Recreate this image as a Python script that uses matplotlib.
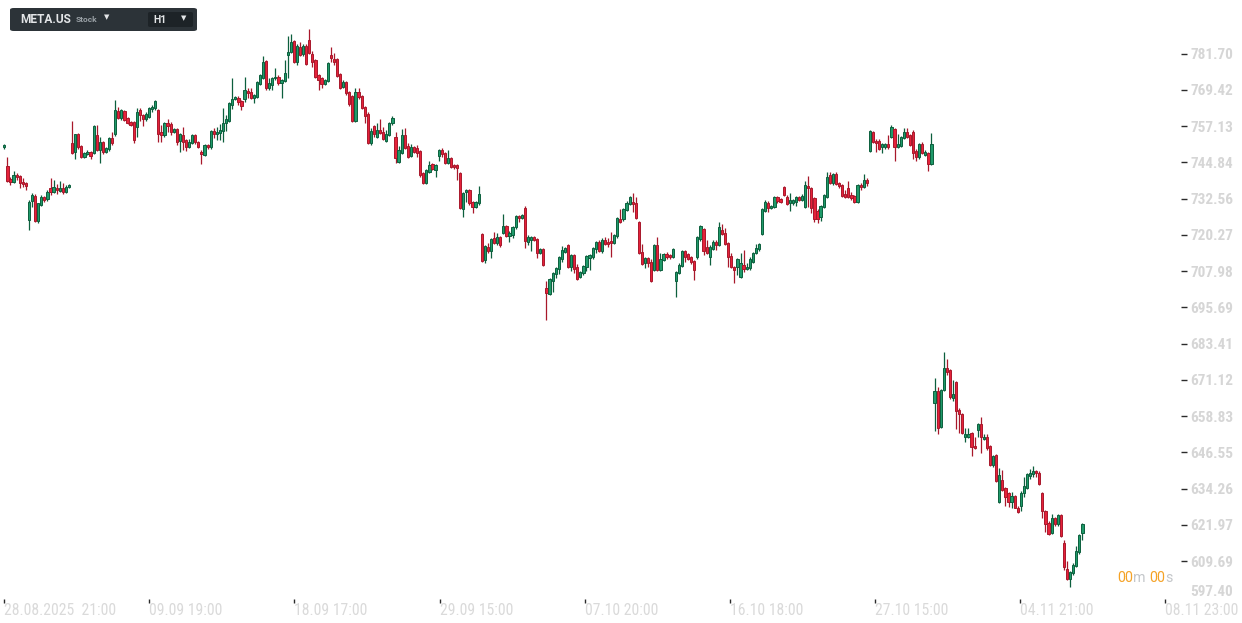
import matplotlib
matplotlib.use("Agg")
import matplotlib.pyplot as plt
from matplotlib import font_manager
from matplotlib.patches import FancyBboxPatch
import numpy as np

# hourly META.US candles
opens = [
    750.0, 743.6, 739.3, 738.1, 740.5, 740.1, 738.2, 737.8, 725.4, 731.9,
    733.4, 724.8, 730.4, 733.0, 732.4, 736.0, 734.9, 736.2, 735.2, 736.0,
    734.9, 736.4, 751.3, 748.5, 754.3, 750.3, 746.5, 747.7, 748.2, 748.1,
    754.0, 749.0, 751.6, 748.5, 749.2, 753.0, 754.3, 762.2, 759.8, 762.2,
    759.8, 758.6, 758.5, 756.9, 762.5, 760.9, 759.4, 760.3, 762.8, 763.1,
    762.5, 755.0, 754.1, 758.1, 757.7, 755.2, 756.1, 752.0, 754.1, 752.4,
    750.2, 751.3, 754.1, 751.8, 748.5, 747.3, 750.7, 749.9, 755.5, 754.3,
    754.7, 755.5, 758.1, 759.0, 764.3, 766.3, 766.8, 765.6, 766.3, 769.0,
    768.6, 766.5, 767.1, 771.3, 773.5, 779.2, 769.9, 771.1, 773.3, 773.9,
    771.6, 772.4, 781.2, 782.4, 786.0, 779.0, 784.0, 781.4, 784.4, 786.3,
    781.4, 779.5, 774.4, 773.5, 771.3, 772.4, 781.2, 779.9, 779.9, 774.7,
    770.3, 772.0, 768.6, 767.3, 759.0, 768.6, 767.3, 763.5, 761.2, 751.3,
    757.2, 753.5, 755.8, 755.2, 752.2, 754.1, 758.1, 753.3, 745.1, 747.9,
    754.1, 750.4, 747.0, 749.9, 749.6, 748.7, 741.1, 738.0, 741.7, 744.2,
    742.2, 747.0, 749.0, 747.9, 744.7, 746.2, 743.8, 743.9, 741.1, 728.9,
    734.7, 735.5, 731.3, 729.6, 730.9, 720.5, 711.7, 716.3, 714.9, 719.1,
    717.4, 719.4, 720.8, 723.3, 719.9, 720.2, 722.8, 726.6, 725.9, 729.2,
    718.0, 718.5, 719.6, 718.7, 714.2, 715.4, 702.1, 700.2, 704.7, 706.9,
    708.6, 712.0, 714.6, 716.8, 709.2, 713.4, 709.2, 705.9, 707.2, 709.2,
    712.3, 712.6, 715.4, 718.0, 714.9, 718.5, 718.0, 718.2, 717.4, 720.0,
    725.5, 725.5, 728.7, 730.7, 731.5, 731.2, 724.5, 714.3, 710.6, 712.3,
    711.2, 708.3, 716.8, 708.3, 711.7, 713.6, 713.4, 712.9, 704.7, 707.4,
    709.7, 714.8, 713.8, 712.6, 711.5, 712.6, 718.7, 722.1, 716.3, 712.6,
    715.4, 718.0, 716.8, 721.9, 721.0, 717.4, 713.1, 709.3, 709.3, 706.1,
    710.0, 708.6, 708.9, 711.2, 714.0, 715.3, 720.5, 728.5, 731.2, 729.3,
    729.6, 733.0, 732.4, 736.4, 733.2, 730.9, 730.9, 731.5, 733.0, 732.1,
    729.6, 736.8, 736.0, 732.6, 728.5, 726.2, 729.8, 733.2, 740.6, 737.7,
    740.9, 737.7, 737.2, 734.1, 736.0, 733.8, 733.4, 731.5, 737.2, 736.6,
    738.9, 748.8, 755.0, 752.2, 752.2, 749.9, 749.9, 751.1, 753.5, 756.0,
    750.2, 750.4, 753.0, 755.0, 754.1, 755.2, 748.8, 746.5, 751.1, 747.3,
    748.1, 744.3, 663.2, 667.3, 655.2, 667.7, 675.0, 674.5, 664.9, 670.3,
    660.9, 659.5, 651.6, 651.9, 653.0, 648.7, 654.1, 656.1, 651.0, 651.6,
    648.7, 642.2, 645.6, 629.6, 637.2, 634.3, 632.6, 629.6, 631.7, 627.8,
    628.5, 632.6, 634.6, 638.6, 639.1, 640.2, 639.7, 632.6, 626.7, 622.7,
    619.1, 624.2, 622.1, 625.3, 615.7, 606.9, 603.5, 605.5, 608.0, 612.6,
    619.1,
]
highs = [
    751.0, 746.8, 739.8, 741.9, 741.1, 740.5, 739.4, 738.2, 732.0, 734.3,
    734.1, 731.2, 733.8, 733.3, 735.5, 739.4, 738.9, 737.4, 738.4, 737.7,
    737.2, 737.5, 758.8, 754.6, 754.8, 750.6, 748.3, 749.0, 748.6, 757.4,
    757.5, 753.3, 752.0, 750.1, 753.5, 755.0, 766.0, 763.7, 762.9, 762.7,
    760.2, 759.0, 758.9, 763.1, 763.1, 761.3, 761.9, 763.5, 764.3, 766.0,
    763.0, 757.5, 758.6, 759.5, 758.6, 756.5, 756.5, 754.8, 756.9, 752.8,
    752.6, 754.5, 754.5, 752.2, 749.0, 751.1, 751.1, 755.9, 756.6, 756.9,
    757.8, 763.1, 760.9, 765.2, 773.3, 767.2, 767.4, 766.0, 773.9, 769.9,
    769.9, 768.0, 772.5, 774.8, 781.0, 779.6, 773.3, 773.9, 776.7, 774.3,
    773.1, 779.5, 787.7, 788.2, 786.3, 784.8, 785.7, 784.8, 784.8, 790.0,
    782.6, 779.9, 774.8, 773.9, 773.1, 778.8, 784.0, 781.8, 780.3, 775.1,
    772.8, 772.4, 769.1, 767.7, 769.9, 769.9, 767.7, 763.9, 761.8, 756.4,
    757.6, 758.3, 759.4, 756.9, 755.8, 758.5, 760.5, 755.2, 750.4, 756.0,
    756.4, 751.5, 751.0, 750.3, 750.7, 749.1, 741.5, 742.6, 745.4, 744.7,
    744.3, 749.4, 749.6, 748.3, 749.0, 746.6, 744.2, 744.3, 741.5, 734.7,
    735.9, 735.9, 731.7, 731.8, 736.8, 720.9, 716.9, 717.4, 719.1, 721.3,
    721.0, 719.8, 727.3, 723.7, 721.4, 723.4, 727.0, 727.0, 727.4, 730.0,
    720.2, 719.8, 719.9, 719.1, 715.8, 715.8, 704.6, 705.6, 707.6, 709.3,
    713.0, 716.5, 716.1, 717.2, 713.8, 713.8, 710.4, 708.0, 710.1, 713.5,
    713.8, 716.1, 718.1, 718.4, 719.1, 719.4, 719.1, 721.3, 720.6, 726.3,
    728.9, 729.3, 731.6, 733.4, 734.6, 733.0, 724.9, 717.2, 712.7, 712.7,
    712.0, 717.2, 719.6, 714.0, 714.0, 714.5, 713.8, 715.8, 708.0, 710.6,
    715.1, 715.2, 714.2, 713.0, 711.9, 719.8, 723.7, 722.5, 718.5, 716.7,
    718.5, 718.4, 724.7, 723.9, 722.5, 717.8, 714.0, 709.7, 712.4, 714.2,
    715.1, 710.6, 712.9, 714.6, 717.2, 717.6, 729.3, 732.1, 731.6, 730.4,
    733.4, 733.4, 732.8, 736.8, 733.6, 734.3, 732.5, 733.4, 733.4, 734.1,
    738.6, 740.2, 736.4, 733.0, 728.9, 730.4, 734.2, 741.7, 741.7, 741.3,
    741.7, 738.1, 737.6, 735.5, 738.6, 734.9, 733.8, 737.6, 737.9, 740.9,
    739.4, 755.9, 755.4, 752.6, 752.6, 751.5, 751.5, 754.1, 757.5, 756.4,
    754.4, 753.7, 756.4, 756.4, 754.5, 755.8, 749.2, 751.5, 751.6, 748.9,
    748.5, 754.9, 671.9, 668.8, 668.1, 680.4, 678.1, 674.9, 671.1, 670.7,
    661.5, 659.9, 654.7, 654.7, 653.4, 651.9, 656.6, 658.4, 652.8, 652.8,
    649.1, 645.6, 646.0, 641.1, 640.6, 634.7, 633.0, 633.2, 632.1, 628.2,
    633.3, 638.3, 639.7, 640.9, 641.9, 640.6, 640.1, 633.0, 627.1, 623.1,
    625.6, 624.6, 625.7, 625.7, 616.8, 609.8, 606.3, 608.9, 614.8, 618.9,
    622.5,
]
lows = [
    749.5, 738.3, 737.2, 737.8, 738.9, 736.0, 736.6, 735.5, 721.9, 729.8,
    724.5, 724.3, 730.0, 731.5, 731.9, 733.8, 734.5, 734.0, 734.9, 734.1,
    734.3, 736.0, 747.8, 745.9, 749.5, 746.2, 746.2, 747.3, 746.0, 747.8,
    748.6, 744.7, 747.7, 748.1, 748.8, 750.7, 753.8, 759.4, 759.3, 758.9,
    757.9, 757.2, 751.3, 753.5, 759.0, 757.3, 759.0, 759.9, 762.0, 762.7,
    751.8, 751.8, 753.5, 755.2, 754.1, 754.8, 750.7, 748.5, 749.0, 748.7,
    749.6, 750.9, 751.2, 749.8, 744.2, 747.0, 749.5, 749.5, 753.2, 752.4,
    752.4, 751.6, 755.5, 758.6, 762.9, 765.9, 764.3, 762.6, 765.2, 766.5,
    766.3, 764.8, 766.7, 771.0, 773.1, 769.4, 769.4, 769.4, 772.9, 771.1,
    766.5, 772.0, 773.3, 781.8, 778.6, 777.8, 780.8, 781.0, 777.7, 781.4,
    777.3, 773.5, 769.4, 769.9, 770.9, 772.0, 779.0, 777.8, 773.8, 769.8,
    769.9, 767.8, 764.1, 758.6, 758.6, 766.2, 762.8, 758.3, 750.9, 750.7,
    753.5, 753.1, 754.5, 752.4, 751.9, 753.7, 757.5, 744.5, 744.7, 747.5,
    749.2, 746.4, 746.6, 748.1, 746.8, 739.8, 737.6, 737.4, 741.3, 742.2,
    739.8, 745.4, 746.5, 744.3, 744.3, 742.8, 742.7, 738.9, 728.9, 726.4,
    731.5, 730.5, 727.6, 729.2, 730.5, 711.1, 710.6, 714.0, 712.3, 717.0,
    716.8, 716.3, 720.4, 719.4, 718.0, 719.1, 722.4, 724.7, 725.5, 715.7,
    716.8, 714.9, 718.1, 712.3, 713.8, 709.6, 691.4, 699.8, 701.0, 705.5,
    707.0, 711.2, 714.2, 709.1, 708.1, 707.4, 705.0, 705.5, 706.8, 708.1,
    708.3, 712.2, 714.2, 714.5, 714.2, 716.8, 716.3, 712.6, 717.0, 719.1,
    724.3, 725.1, 728.3, 730.3, 728.1, 725.5, 713.6, 710.0, 708.9, 709.5,
    704.4, 707.9, 707.9, 707.9, 711.3, 712.0, 712.2, 712.5, 699.1, 707.0,
    709.3, 711.2, 711.6, 710.4, 705.0, 712.2, 718.3, 713.4, 713.8, 710.0,
    715.0, 715.1, 716.4, 720.1, 716.8, 709.3, 708.9, 703.8, 706.7, 705.7,
    707.8, 708.2, 708.5, 710.8, 713.6, 714.9, 720.1, 728.1, 728.1, 728.9,
    729.2, 730.9, 731.1, 733.4, 730.3, 728.5, 730.5, 730.0, 731.7, 731.7,
    729.2, 729.8, 727.8, 724.7, 724.2, 725.1, 729.4, 732.8, 737.6, 737.3,
    737.1, 736.0, 733.0, 732.6, 732.6, 732.2, 731.1, 731.1, 735.5, 736.2,
    736.8, 748.5, 751.4, 748.5, 749.0, 747.9, 749.5, 749.5, 753.1, 745.4,
    749.8, 750.0, 752.6, 753.1, 750.3, 745.9, 745.4, 746.1, 747.5, 746.9,
    742.0, 743.9, 653.9, 652.6, 654.8, 667.3, 672.8, 664.5, 664.1, 654.3,
    653.2, 652.6, 650.2, 651.5, 645.4, 647.6, 651.9, 646.2, 650.6, 647.3,
    641.8, 641.5, 636.4, 629.2, 633.4, 628.4, 628.1, 627.6, 627.6, 626.1,
    626.8, 631.5, 634.2, 637.4, 638.3, 638.3, 635.4, 624.2, 619.7, 618.5,
    618.7, 621.7, 621.7, 618.0, 606.7, 603.3, 601.0, 605.1, 607.6, 612.2,
    616.8,
]
closes = [
    750.8, 738.6, 738.2, 740.4, 739.8, 737.7, 737.4, 736.9, 731.4, 733.7,
    725.1, 730.9, 733.0, 732.1, 734.9, 734.9, 736.4, 735.5, 736.0, 734.9,
    736.6, 737.1, 748.1, 754.3, 749.9, 746.5, 747.9, 748.5, 747.0, 757.0,
    749.0, 751.7, 748.5, 749.7, 753.0, 751.5, 762.5, 759.8, 762.5, 759.3,
    758.3, 757.6, 752.3, 761.8, 761.0, 759.4, 761.2, 763.1, 763.7, 765.6,
    754.6, 754.1, 758.1, 757.3, 755.2, 756.1, 751.6, 754.4, 751.8, 749.9,
    751.8, 754.1, 751.6, 750.2, 747.5, 750.7, 749.9, 755.5, 754.3, 755.2,
    755.8, 758.1, 759.4, 764.8, 766.3, 766.8, 765.2, 764.0, 769.4, 768.2,
    766.5, 767.7, 772.1, 774.4, 779.0, 769.9, 771.6, 773.5, 773.9, 771.6,
    772.7, 775.0, 782.4, 785.7, 779.0, 784.4, 781.2, 784.4, 778.1, 781.8,
    778.7, 773.9, 772.7, 771.3, 772.7, 778.4, 780.1, 779.0, 774.2, 770.2,
    772.0, 768.2, 764.5, 759.0, 768.6, 767.1, 763.1, 760.7, 751.3, 755.5,
    754.3, 755.8, 754.9, 752.6, 754.4, 758.1, 759.8, 746.2, 749.0, 754.1,
    749.6, 746.8, 749.9, 748.5, 748.1, 740.5, 738.0, 742.2, 743.9, 742.5,
    743.9, 749.0, 747.7, 744.7, 746.2, 743.4, 743.1, 743.0, 729.3, 734.3,
    735.5, 730.9, 729.6, 731.4, 734.1, 711.5, 716.5, 714.9, 718.7, 717.4,
    719.4, 716.8, 723.3, 720.0, 721.0, 723.0, 726.6, 725.9, 727.0, 718.3,
    719.4, 719.4, 718.5, 714.2, 715.4, 710.0, 700.7, 705.2, 707.2, 708.9,
    712.6, 715.1, 715.7, 709.5, 713.4, 708.6, 705.4, 707.6, 709.7, 713.1,
    713.4, 715.7, 717.7, 714.9, 718.5, 717.2, 717.2, 717.4, 720.2, 725.9,
    724.7, 728.9, 731.2, 733.0, 730.6, 725.9, 714.0, 710.4, 712.3, 710.8,
    704.6, 716.8, 708.3, 712.0, 713.6, 712.9, 712.6, 715.4, 707.5, 710.0,
    714.9, 712.9, 712.0, 711.2, 708.3, 719.4, 723.3, 714.9, 714.2, 716.3,
    718.0, 716.8, 723.0, 720.5, 717.2, 712.9, 709.3, 708.3, 712.0, 710.6,
    708.6, 709.5, 712.0, 714.2, 715.7, 717.2, 728.9, 731.5, 729.3, 730.0,
    733.0, 731.8, 731.5, 733.8, 730.7, 732.1, 732.1, 733.0, 732.1, 733.4,
    737.2, 736.0, 729.3, 725.5, 725.5, 730.0, 733.8, 739.8, 738.0, 740.9,
    737.5, 736.8, 733.4, 733.0, 733.0, 732.6, 731.5, 737.2, 736.4, 738.9,
    737.9, 755.5, 751.8, 751.5, 749.3, 751.1, 751.1, 749.9, 756.7, 749.9,
    751.1, 753.3, 755.0, 753.5, 750.7, 748.1, 746.5, 751.1, 747.9, 748.5,
    744.3, 751.1, 667.3, 654.7, 667.7, 675.0, 673.9, 665.2, 666.3, 660.6,
    659.5, 653.0, 652.8, 652.8, 648.2, 647.9, 656.1, 651.6, 651.9, 647.9,
    642.2, 645.3, 636.8, 638.9, 633.8, 631.3, 629.8, 631.7, 627.8, 626.4,
    632.9, 635.1, 639.1, 639.4, 640.2, 639.4, 635.8, 626.7, 622.1, 618.9,
    624.2, 622.1, 625.3, 618.3, 607.8, 603.5, 605.9, 608.4, 613.1, 618.5,
    622.1,
]

x_tick_pos = [0, 47.1, 94.2, 141.3, 188.4, 235.5, 282.6, 329.7, 376.8]
x_tick_labels = ["28.08.2025  21:00", "09.09 19:00", "18.09 17:00", "29.09 15:00",
                 "07.10 20:00", "16.10 18:00", "27.10 15:00", "04.11 21:00", "08.11 23:00"]
y_ticks = [781.70, 769.42, 757.13, 744.84, 732.56, 720.27, 707.98, 695.69,
           683.41, 671.12, 658.83, 646.55, 634.26, 621.97, 609.69]
y_floor = 597.40

UP, UP_EDGE = "#1f9a6a", "#0c5f3d"
DN, DN_EDGE = "#e5223a", "#a8182b"

# pick a narrow face for the axis labels, whatever is installed
fonts = font_manager.fontManager.ttflist
names = {f.name for f in fonts}
if "Roboto Condensed" in names:
    axfont, axsize = dict(family="Roboto Condensed"), 11
elif "Liberation Sans Narrow" in names:
    axfont, axsize = dict(family="Liberation Sans Narrow"), 11
elif any(f.name == "DejaVu Sans" and "condensed" in str(f.stretch) for f in fonts):
    axfont, axsize = dict(family="DejaVu Sans", stretch="condensed"), 10
else:
    axfont, axsize = dict(family="Roboto"), 9.3

W, H = 1242, 623
fig = plt.figure(figsize=(W / 100, H / 100), dpi=100)
ax = fig.add_axes([0, 24 / H, 1181 / W, 599 / H])

o, h, l, c = map(np.array, (opens, highs, lows, closes))
idx = np.arange(len(o))
up = c >= o
fill = np.where(up, UP, DN)
edge = np.where(up, UP_EDGE, DN_EDGE)

ax.vlines(idx, l, h, colors=edge, linewidth=0.9, zorder=2)
bottom = np.minimum(o, c)
height = np.maximum(np.abs(c - o), 0.6)
ax.bar(idx, height, bottom=bottom, width=0.72, color=fill, edgecolor=edge,
       linewidth=0.7, zorder=3)

ax.set_xlim(-1.4, 382.0)
ax.set_ylim(596.82, 799.87)
for s in ax.spines.values():
    s.set_visible(False)

ax.yaxis.tick_right()
ax.set_yticks(y_ticks, [f"{v:.2f}" for v in y_ticks])
ax.tick_params(axis="y", length=4.3, width=1.0, color="#2b2b2b", pad=2.2,
               labelsize=axsize, labelcolor="#d6d6d6")
for t in ax.get_yticklabels():
    t.set(**axfont)
    t.set_weight("bold")
ax.annotate(f"{y_floor:.2f}", xy=(1, y_floor), xycoords=("axes fraction", "data"),
            xytext=(6.5, 3.6), textcoords="offset points", ha="left", va="center",
            fontsize=axsize, color="#d6d6d6", weight="bold", **axfont)

ax.set_xticks(x_tick_pos, x_tick_labels)
ax.tick_params(axis="x", length=2.9, width=1.0, color="#2b2b2b", pad=0.3,
               labelsize=axsize + 0.3, labelcolor="#dadada")
for t in ax.get_xticklabels():
    t.set_ha("left")
    t.set(**axfont)

# countdown
t1 = fig.text(1117 / W, 1 - 578 / H, "00", color="#f5a225", fontsize=10.3,
              family="Roboto", ha="left", va="center")
prev = t1
for txt, col in [("m ", "#c3c6c9"), ("00", "#f5a225"), ("s", "#c3c6c9")]:
    prev = ax.annotate(txt, xy=(1, 0), xycoords=prev, ha="left", va="bottom",
                       color=col, fontsize=10.3, family="Roboto",
                       annotation_clip=False)

# header box
def fx(px):
    return px / W

def fy(py):
    return 1 - py / H

fig.patches.append(FancyBboxPatch((fx(10), fy(31)), fx(187), 23 / H,
                                  boxstyle="round,pad=0,rounding_size=0.003",
                                  transform=fig.transFigure, facecolor="#2c3338",
                                  edgecolor="none"))
fig.patches.append(FancyBboxPatch((fx(148), fy(27)), fx(45), 15 / H,
                                  boxstyle="round,pad=0,rounding_size=0.002",
                                  transform=fig.transFigure, facecolor="#1d2327",
                                  edgecolor="none"))
fig.text(fx(20), fy(19.5), "META.US", color="#e4e6e8", fontsize=8.6, weight="bold",
         family="Roboto", va="center", ha="left")
fig.text(fx(76), fy(20), "Stock", color="#9aa1a6", fontsize=6, weight="bold",
         family="Roboto", va="center", ha="left")
fig.text(fx(107), fy(17), "\u25bc", color="#e4e6e8", fontsize=5,
         family="DejaVu Sans", va="center", ha="center")
fig.text(fx(153), fy(20), "H1", color="#e4e6e8", fontsize=7.5, weight="bold",
         family="Roboto", va="center", ha="left")
fig.text(fx(184), fy(18), "\u25bc", color="#e4e6e8", fontsize=5,
         family="DejaVu Sans", va="center", ha="center")

fig.savefig("out.png", dpi=100, facecolor="white")
